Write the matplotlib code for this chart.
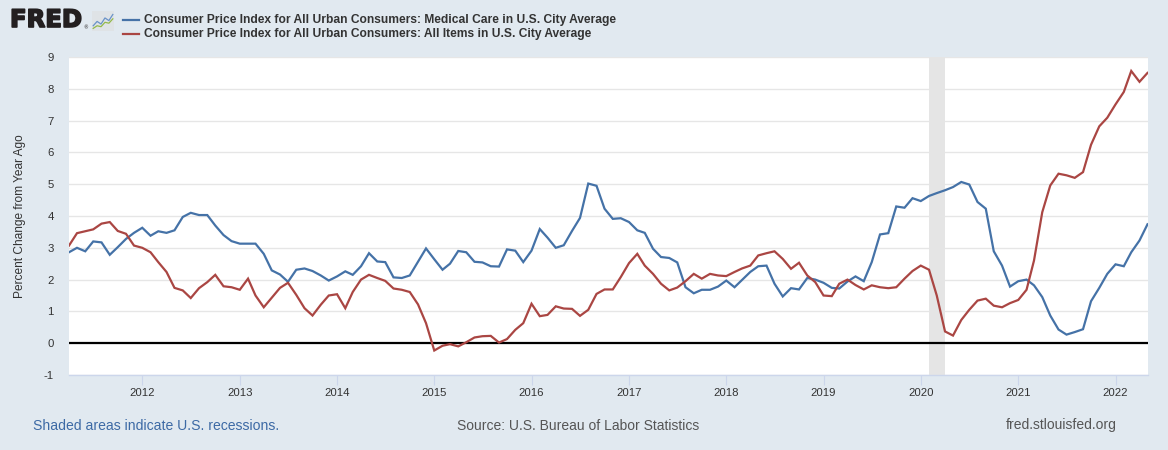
import numpy as np
import pandas as pd
import matplotlib
matplotlib.use("Agg")
import matplotlib.pyplot as plt
import matplotlib.dates as mdates
import matplotlib.patheffects as pe
from matplotlib.lines import Line2D

plt.rcParams["axes.unicode_minus"] = False

# ---------------- data (percent change from year ago, monthly) ----------------
start_month = "2011-04-01"
medical_care = [
    2.86, 3.00, 2.89, 3.20, 3.17, 2.78, 3.02, 3.28, 3.47, 3.63,
    3.38, 3.52, 3.47, 3.55, 3.97, 4.10, 4.03, 4.03, 3.70, 3.40,
    3.21, 3.13, 3.13, 3.13, 2.81, 2.29, 2.16, 1.93, 2.31, 2.35,
    2.27, 2.13, 1.97, 2.10, 2.26, 2.15, 2.42, 2.83, 2.57, 2.55,
    2.07, 2.05, 2.13, 2.56, 2.98, 2.64, 2.31, 2.50, 2.90, 2.86,
    2.56, 2.54, 2.42, 2.41, 2.95, 2.91, 2.55, 2.91, 3.59, 3.32,
    3.00, 3.08, 3.53, 3.94, 5.02, 4.95, 4.23, 3.91, 3.93, 3.81,
    3.55, 3.47, 2.97, 2.71, 2.68, 2.54, 1.76, 1.57, 1.68, 1.68,
    1.78, 1.97, 1.76, 1.99, 2.24, 2.42, 2.44, 1.87, 1.47, 1.73,
    1.69, 2.05, 2.00, 1.90, 1.74, 1.72, 1.94, 2.10, 1.95, 2.55,
    3.42, 3.46, 4.30, 4.26, 4.56, 4.47, 4.63, 4.72, 4.81, 4.91,
    5.07, 4.99, 4.44, 4.23, 2.89, 2.44, 1.78, 1.95, 2.00, 1.82,
    1.45, 0.87, 0.43, 0.27, 0.35, 0.44, 1.32, 1.74, 2.18, 2.48,
    2.42, 2.86, 3.23, 3.74,
]
all_items = [
    3.07, 3.46, 3.52, 3.58, 3.76, 3.81, 3.53, 3.44, 3.07, 3.00,
    2.86, 2.55, 2.24, 1.74, 1.66, 1.42, 1.73, 1.92, 2.15, 1.79,
    1.76, 1.68, 2.03, 1.50, 1.13, 1.43, 1.74, 1.90, 1.52, 1.10,
    0.87, 1.21, 1.50, 1.54, 1.10, 1.61, 2.00, 2.15, 2.05, 1.96,
    1.72, 1.68, 1.61, 1.22, 0.63, -0.23, -0.08, -0.03, -0.10, 0.03,
    0.18, 0.22, 0.23, 0.02, 0.13, 0.42, 0.63, 1.24, 0.85, 0.89,
    1.16, 1.09, 1.08, 0.86, 1.05, 1.55, 1.69, 1.69, 2.08, 2.52,
    2.81, 2.44, 2.18, 1.87, 1.66, 1.75, 1.95, 2.18, 2.03, 2.18,
    2.13, 2.11, 2.24, 2.35, 2.44, 2.76, 2.83, 2.89, 2.65, 2.34,
    2.53, 2.13, 1.92, 1.50, 1.48, 1.87, 2.00, 1.83, 1.69, 1.82,
    1.76, 1.73, 1.76, 2.03, 2.27, 2.44, 2.31, 1.50, 0.37, 0.24,
    0.73, 1.05, 1.34, 1.40, 1.18, 1.13, 1.26, 1.36, 1.68, 2.60,
    4.12, 4.96, 5.33, 5.28, 5.20, 5.38, 6.24, 6.82, 7.09, 7.51,
    7.90, 8.56, 8.22, 8.50,
]
recession_start = "2020-02-01"
recession_end = "2020-04-01"
series_labels = [
    "Consumer Price Index for All Urban Consumers: Medical Care in U.S. City Average",
    "Consumer Price Index for All Urban Consumers: All Items in U.S. City Average",
]
y_ticks = list(range(-1, 10))
# decorative logo sparkline values
logo_blue = [0.2, 0.45, 0.3, 0.65, 0.5, 0.85]
logo_green = [0.05, 0.2, 0.15, 0.4, 0.35, 0.6]

# ---------------- styling ----------------
BG = "#e1e9f0"
BLUE = "#4572a7"
RED = "#aa4643"
TXT = "#333333"
W, H = 1168, 450

fig = plt.figure(figsize=(W / 100, H / 100), dpi=100, facecolor=BG)
ax = fig.add_axes([69 / W, 1 - 375 / H, (1147.5 - 69) / W, (375 - 57) / H])
ax.set_facecolor("white")

dates = pd.date_range(start_month, periods=len(medical_care), freq="MS")

ax.axvspan(pd.Timestamp(recession_start), pd.Timestamp(recession_end),
           color="#e5e5e5", lw=0, zorder=1)
ax.axhline(0, color="black", lw=1.6, zorder=2)
ax.plot(dates, medical_care, color=BLUE, lw=1.6, zorder=3, solid_joinstyle="miter")
ax.plot(dates, all_items, color=RED, lw=1.6, zorder=3, solid_joinstyle="miter")

ax.set_xlim(dates[0], dates[-1])
ax.set_ylim(-1, 9)
ax.set_yticks(y_ticks)
ax.grid(axis="y", color="#e6e6e6", lw=1.0, zorder=0)
ax.set_axisbelow(True)
for s in ("left", "top", "right"):
    ax.spines[s].set_visible(False)
ax.spines["bottom"].set_color("#ccd6eb")
ax.spines["bottom"].set_linewidth(1.0)

ax.xaxis.set_major_locator(mdates.YearLocator())
ax.xaxis.set_major_formatter(mdates.DateFormatter("%Y"))
ax.tick_params(axis="x", length=7.5, width=0.8, color="#ccd6eb", labelsize=8.2,
               labelcolor=TXT, pad=2)
ax.tick_params(axis="y", length=0, labelsize=8.2, labelcolor=TXT, pad=11)
for lab in ax.get_xticklabels() + ax.get_yticklabels():
    lab.set_fontfamily("Liberation Sans")

fig.text(20 / W, 1 - 216 / H, "Percent Change from Year Ago", rotation=90,
         ha="center", va="center", fontsize=8.6, color=TXT, family="Liberation Sans")

# ---------------- header ----------------
renderer = fig.canvas.get_renderer()


def fit(t, target_px):
    for _ in range(3):
        w = t.get_window_extent(renderer=renderer).width
        t.set_fontsize(t.get_fontsize() * target_px / w)


logo = fig.text(10 / W, 1 - 20 / H, "FRED", ha="left", va="center", fontsize=16,
                fontweight="bold", color="#231f20", family="DejaVu Sans",
                path_effects=[pe.withStroke(linewidth=1.2, foreground="#231f20")])
fit(logo, 72)
fig.text(83 / W, 1 - 28 / H, "®", ha="left", va="center", fontsize=3.5, color="#231f20")

iax = fig.add_axes([92 / W, 1 - 31 / H, 22 / W, 20 / H])
iax.set_facecolor("#dfe3e6")
iax.plot(range(len(logo_blue)), logo_blue, color="#6a93c8", lw=0.9)
iax.plot(range(len(logo_green)), logo_green, color="#93b94a", lw=0.9)
iax.set_xlim(-0.3, len(logo_blue) - 0.7)
iax.set_ylim(-0.1, 1.05)
iax.set_xticks([])
iax.set_yticks([])
for s in iax.spines.values():
    s.set_visible(False)

for i, (lab, col, target) in enumerate(zip(series_labels, [BLUE, RED], [469, 445])):
    yy = 1 - (20 + 13.5 * i) / H
    fig.add_artist(Line2D([123 / W, 139 / W], [yy, yy], color=col, lw=1.6,
                          transform=fig.transFigure))
    t = fig.text(144 / W, yy, lab, ha="left", va="center", fontsize=9,
                 fontweight="bold", color=TXT, family="Liberation Sans")
    fit(t, target)

# ---------------- footer ----------------
f1 = fig.text(33 / W, 1 - 425.5 / H, "Shaded areas indicate U.S. recessions.",
              ha="left", va="center", fontsize=10, color="#3d6aa5", family="Liberation Sans")
fit(f1, 245)
f2 = fig.text(578 / W, 1 - 425.5 / H, "Source: U.S. Bureau of Labor Statistics",
              ha="center", va="center", fontsize=10, color="#555555", family="Liberation Sans")
fit(f2, 243)
f3 = fig.text(1117 / W, 1 - 425.5 / H, "fred.stlouisfed.org",
              ha="right", va="center", fontsize=10, color="#555555", family="Liberation Sans")
fit(f3, 111)

fig.savefig("out.png", dpi=100, facecolor=BG)
